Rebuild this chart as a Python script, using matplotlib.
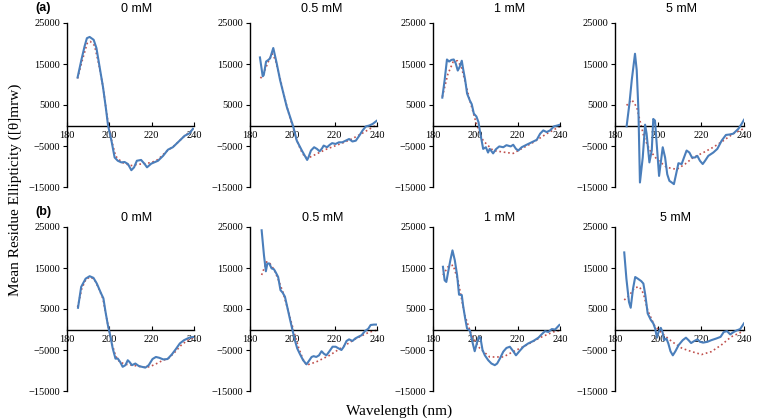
import matplotlib
matplotlib.use("Agg")
import matplotlib.pyplot as plt

# concentrations shown above each panel
titles = ["0 mM", "0.5 mM", "1 mM", "5 mM"]
row_labels = ["(a)", "(b)"]

# ---- row (a) ----
a0_wl = [185, 186.8, 188.3, 189.4, 190.7, 192.6, 193.9, 195.4, 197, 198.3, 199.4, 201, 202.5, 204, 205.7, 207.2,
         208.8, 210.4, 211.7, 213, 215, 216.7, 217.8, 219.8, 223, 225.4, 227.7, 230, 233.2, 235.6, 237.9, 239.5]
a0_cd = [11700, 16000, 19300, 21300, 21600, 20900, 18900, 14300, 9400, 4500, 0, -3700, -7800, -8600, -9000, -8900,
         -9400, -10900, -10200, -8600, -8400, -9400, -10200, -9300, -8600, -7400, -5900, -5300, -3700, -2500, -1900, -800]
a0_fit_wl = [185, 187, 189.5, 191, 193, 195, 197, 199, 201, 203, 206, 210, 213, 217, 220, 223, 227, 231, 235, 240]
a0_fit = [11500, 15500, 20000, 20500, 19500, 15000, 9500, 2000, -3500, -7500, -9000, -9800, -9500, -9300, -9000,
          -8300, -6300, -4800, -2800, -800]

a1_wl = [184.7, 186, 186.5, 187.6, 188.7, 189.5, 191, 192.6, 194.2, 195.8, 197.4, 199, 200.5, 202.1, 204.5, 207,
         207.6, 208.8, 210.3, 211.6, 212.9, 214, 214.8, 216.4, 217.7, 218.8, 220.4, 222, 223.6, 225.2, 226.8, 228.4,
         230, 231.6, 233.2, 234.8, 236.4, 238, 240]
a1_cd = [16600, 12000, 12300, 15600, 16000, 16400, 18900, 15200, 11100, 7800, 4500, 2000, -400, -3700, -6100, -8400,
         -7800, -6100, -5300, -5700, -6300, -5600, -4900, -5300, -4700, -4300, -4500, -4100, -4100, -3700, -3300, -3900,
         -3700, -2500, -1200, -200, 0, 400, 1200]
a1_fit_wl = [185, 187, 189, 190.5, 192, 194, 196, 198, 200, 202, 204, 206, 208, 212, 216, 220, 224, 228, 232, 236, 240]
a1_fit = [11500, 13500, 16000, 17500, 16000, 12000, 7500, 3500, 0, -3500, -6000, -7800, -7800, -6800, -5800, -5000,
          -4200, -3300, -2200, -1000, 200]

a2_wl = [184.4, 185.5, 186.6, 187.6, 188.7, 189.8, 190.7, 191.7, 192.6, 193.6, 194.2, 195.2, 196.1, 197.4, 198.3,
         199.3, 200.5, 201.5, 202.1, 203.7, 205, 206, 206.8, 208.4, 209.7, 211.3, 213.2, 214.7, 216.7, 217.9, 219.2,
         220.3, 221.9, 224.2, 226.6, 229, 230.6, 232.1, 233.7, 235.3, 237.2, 238.8, 240]
a2_cd = [6800, 11100, 16100, 15600, 16000, 16100, 15200, 13400, 14300, 15800, 13900, 11100, 7800, 6100, 5200, 2900,
         2200, 800, -1200, -5700, -5300, -6600, -5700, -6800, -5800, -5100, -5300, -4800, -5100, -4700, -5700, -6100,
         -5300, -4700, -4100, -3500, -2000, -1200, -1600, -1200, -200, 0, 200]
a2_fit_wl = [184.4, 187, 189.5, 191.5, 193.4, 195.5, 197.4, 200.5, 203.7, 208.4, 214.7, 217.9, 221, 227.4, 233.7, 240]
a2_fit = [7000, 12500, 15500, 15800, 14300, 10000, 6100, 400, -3700, -6100, -6600, -6800, -5900, -4100, -2000, -200]

a3_wl = [185.4, 186.7, 187.8, 189.3, 190.1, 190.9, 191.6, 192.9, 194, 194.7, 196, 197.1, 197.8, 198.6, 199.4, 200.5,
         201.2, 202.2, 203.3, 204.3, 205.3, 206.4, 207.4, 208.4, 209.5, 211, 212.1, 213.3, 214.6, 215.8, 217.2, 218.3,
         219.5, 220.8, 221.9, 223.4, 225.7, 227.6, 229.6, 231.6, 233.2, 235, 237.4, 238.9, 240]
a3_cd = [-200, 5300, 11100, 17500, 13500, 3700, -13900, -7800, 200, -2000, -9000, -6100, 1600, 1200, -4500, -12300,
         -9400, -5300, -7800, -11900, -13500, -13900, -14300, -11900, -9200, -9400, -7800, -6100, -6600, -7800, -7800,
         -7400, -8600, -9400, -8600, -7400, -6600, -5700, -3700, -2300, -2200, -2000, -800, 400, 1400]
a3_fit_wl = [185.4, 187.8, 190.1, 191.6, 193.5, 196.3, 199.4, 204, 208.7, 212.6, 216.4, 221.1, 225.7, 230.4, 235, 239.7]
a3_fit = [4900, 6300, 4500, 1200, -2900, -6100, -8200, -10200, -10700, -9400, -7800, -6600, -5300, -3700, -2000, -800]

# ---- row (b) ----
b0_wl = [185.2, 186.7, 188.8, 190.7, 192.5, 194.1, 196.1, 197.2, 198.2, 199.3, 200.4, 201.6, 202.9, 204, 205.1, 206.3,
         207.6, 208.7, 209.5, 210.7, 212.3, 213.9, 215.4, 217, 218.6, 220.4, 222, 223.6, 225.5, 227.5, 229.5, 231.4,
         233.3, 235.3, 237.7, 240]
b0_cd = [5300, 10400, 12400, 13000, 12600, 11200, 8800, 7600, 4300, 1100, -1400, -4600, -7100, -7100, -7900, -9100,
         -8700, -7500, -7900, -8700, -8300, -8900, -9100, -9300, -8700, -7200, -6700, -6900, -7300, -7200, -6100, -4800,
         -3400, -2600, -2000, -1800]
b0_fit_wl = [185, 187, 189, 191, 193, 195, 197, 199, 201, 203, 205, 208, 212, 216, 219, 222, 225, 228, 231, 234, 237, 240]
b0_fit = [5500, 10000, 12300, 12800, 12200, 10000, 7500, 2000, -3000, -6500, -8000, -8500, -8800, -9200, -9100, -8400,
          -7600, -7000, -5500, -3800, -2600, -2000]

b1_wl = [185.5, 186.6, 187.5, 188.2, 189.1, 190.2, 191.3, 192.2, 193.3, 194.4, 195.4, 196.5, 197.6, 198.8, 200.1,
         201.2, 202.3, 203.5, 205.1, 206.7, 207.8, 209.1, 210.1, 211.3, 212.6, 213.8, 214.9, 216.1, 217.4, 219, 220.5,
         221.8, 223.2, 224.3, 225.6, 226.8, 228.4, 229.7, 231.1, 232.7, 234.3, 235.9, 237, 238.6, 240]
b1_cd = [24200, 18100, 14200, 16100, 16100, 14900, 14700, 13900, 12800, 9600, 9000, 8000, 5500, 2700, -200, -2600,
         -4600, -5900, -7500, -8500, -7700, -6700, -6500, -6700, -6300, -5300, -5900, -6300, -5400, -4200, -4200, -4600,
         -5000, -4200, -2800, -2400, -2800, -2200, -1800, -1400, -400, 200, 1100, 1200, 1200]
b1_fit_wl = [185.5, 187.8, 189.4, 191.5, 193.5, 195.5, 197, 198.8, 201, 203, 205, 206.7, 211.3, 217.6, 223.9, 230.1,
             236.5, 239.7]
b1_fit = [13300, 16500, 16100, 14500, 12000, 9200, 6500, 3100, -1000, -4500, -7200, -8700, -7900, -6300, -4200, -2200,
          -600, -200]

b2_wl = [184.7, 185.5, 186.3, 187.1, 188.2, 189.2, 190.3, 191.4, 192.3, 193.6, 194.2, 195.2, 196.1, 197.4, 198.6,
         199.7, 200.9, 201.8, 202.4, 203.4, 204.5, 206.1, 207.6, 209.2, 210.3, 211.6, 213.2, 214.7, 216.3, 217.9, 219.2,
         220.8, 222.7, 225, 227.4, 229.8, 231.3, 232.9, 234.5, 236.1, 237.7, 239.7]
b2_cd = [15300, 12000, 11600, 13900, 16900, 19300, 16900, 13200, 8500, 8400, 5900, 2700, 200, -200, -3000, -5300,
         -3000, -1800, -2000, -5000, -6300, -7500, -8300, -8700, -8300, -7100, -5400, -4500, -4200, -5300, -6300, -5300,
         -4200, -3400, -2800, -2000, -1200, -400, -600, 100, 0, 1100]
b2_fit_wl = [184.7, 187.1, 189.5, 191.8, 195, 198.2, 202.1, 206.8, 213.2, 217.9, 224.2, 230.5, 236.8, 240]
b2_fit = [13300, 15300, 15700, 12000, 3500, -1400, -4600, -6700, -6700, -5400, -3800, -2000, -600, -200]

b3_wl = [184.3, 185.3, 186.5, 187.3, 188.4, 189.4, 190.6, 192.2, 193.2, 194.1, 195.2, 196.7, 197.8, 198.7, 199.5,
         200.2, 201.3, 202.1, 202.8, 203.9, 204.8, 205.8, 206.9, 208.1, 209.6, 211.5, 213, 214.2, 215.4, 216.9, 218.4,
         219.5, 221, 223, 224.8, 227.1, 229.1, 230.6, 232.1, 233.6, 235.2, 236.7, 238.2, 240]
b3_cd = [18800, 12400, 6700, 5300, 10000, 12800, 12400, 11800, 11200, 8400, 3900, 2300, 1500, 200, -2000, -700, 400,
         -600, -2600, -2200, -3400, -5300, -6300, -5300, -3800, -2600, -2000, -2600, -3300, -2800, -2400, -3000, -3200,
         -3000, -2600, -2200, -1800, -600, -400, -1200, -600, -200, 100, 1500]
b3_fit_wl = [184.3, 186.8, 189.1, 191.4, 193.2, 195.2, 198.2, 202, 206.6, 211.2, 215.7, 220.3, 224.8, 229.4, 234,
             238.5, 240]
b3_fit = [7200, 8400, 10200, 10400, 8800, 4700, 1100, -1000, -3000, -4600, -5400, -6100, -5400, -3800, -1800, -700, -400]

rows = [
    [(a0_wl, a0_cd, a0_fit_wl, a0_fit), (a1_wl, a1_cd, a1_fit_wl, a1_fit),
     (a2_wl, a2_cd, a2_fit_wl, a2_fit), (a3_wl, a3_cd, a3_fit_wl, a3_fit)],
    [(b0_wl, b0_cd, b0_fit_wl, b0_fit), (b1_wl, b1_cd, b1_fit_wl, b1_fit),
     (b2_wl, b2_cd, b2_fit_wl, b2_fit), (b3_wl, b3_cd, b3_fit_wl, b3_fit)],
]

W, H = 763, 418
fig = plt.figure(figsize=(W / 100, H / 100), dpi=100)

# panel boxes in pixels (left, right) and (top, bottom)
col_px = [(67, 194), (250, 377), (433, 560), (615, 744)]
row_px = [(23, 187), (227, 391)]
title_x = [[137, 322, 510, 682], [137, 323, 500, 675]]
title_y = [9, 218]
label_y = [8, 212]

blue = '#4a7ebb'
red = '#c0504d'
serif = 'Liberation Serif'
sans = 'Liberation Sans'

for r, panels in enumerate(rows):
    top, bot = row_px[r]
    for c, (wl, cd, fwl, fit) in enumerate(panels):
        left, right = col_px[c]
        ax = fig.add_axes([left / W, 1 - bot / H, (right - left) / W, (bot - top) / H])
        ax.plot(fwl, fit, color=red, linestyle=':', linewidth=1.2, zorder=2)
        ax.plot(wl, cd, color=blue, linewidth=1.5, zorder=3)
        ax.set_xlim(180, 240)
        ax.set_ylim(-15000, 25000)
        ax.set_xticks([180, 200, 220, 240])
        ax.set_yticks([-15000, -5000, 5000, 15000, 25000])
        ax.spines['top'].set_visible(False)
        ax.spines['right'].set_visible(False)
        ax.spines['bottom'].set_position(('data', 0))
        ax.spines['left'].set_linewidth(1.0)
        ax.spines['bottom'].set_linewidth(1.0)
        ax.tick_params(axis='x', direction='in', length=3, width=0.8, pad=4, labelsize=7.5)
        ax.tick_params(axis='y', direction='out', length=3, width=0.8, pad=2, labelsize=7.5)
        for lab in ax.get_xticklabels() + ax.get_yticklabels():
            lab.set_fontfamily(serif)
        ax.patch.set_alpha(0)
        fig.text(title_x[r][c] / W, 1 - title_y[r] / H, titles[c], ha='center', va='center',
                 fontsize=9, family=sans)
    fig.text(43 / W, 1 - label_y[r] / H, row_labels[r], ha='center', va='center',
             fontsize=9, fontweight='bold', family=sans)

fig.text(15 / W, 1 - 190 / H, 'Mean Residue Ellipticity ([θ]mrw)', rotation=90, ha='center', va='center',
         fontsize=11, family=serif)
fig.text(399 / W, 1 - 411 / H, 'Wavelength (nm)', ha='center', va='center', fontsize=11, family=serif)

fig.savefig('out.png', dpi=100)
